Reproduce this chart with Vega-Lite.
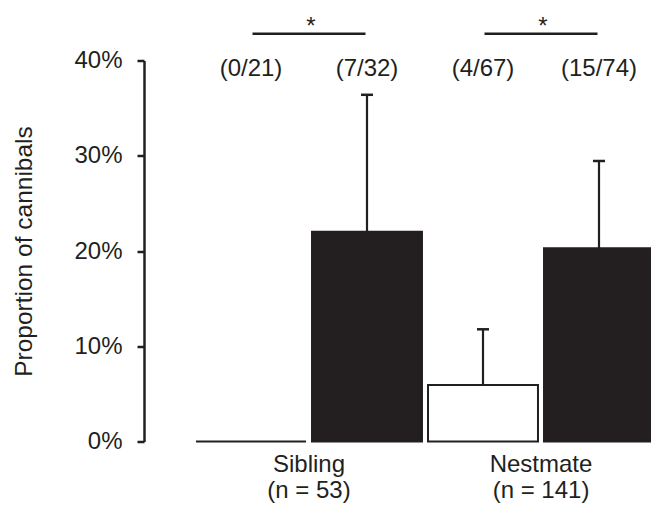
{
  "$schema": "https://vega.github.io/schema/vega-lite/v6.json",
  "width": 507,
  "height": 381,
  "autosize": {"type": "none"},
  "padding": {"left": 144, "top": 60.5, "right": 0, "bottom": 64.5},
  "background": "white",
  "config": {
    "view": {"stroke": null},
    "font": "Liberation Sans",
    "text": {"font": "Liberation Sans"}
  },
  "datasets": {
    "bars": [
      {"group": "Sibling", "treat": "A", "value": 0.0, "upper": null, "count": "(0/21)"},
      {"group": "Sibling", "treat": "B", "value": 0.2203, "upper": 0.364, "count": "(7/32)"},
      {"group": "Nestmate", "treat": "A", "value": 0.0593, "upper": 0.1178, "count": "(4/67)"},
      {"group": "Nestmate", "treat": "B", "value": 0.2028, "upper": 0.2945, "count": "(15/74)"}
    ],
    "sig": [
      {"group": "Sibling", "label": "*"},
      {"group": "Nestmate", "label": "*"}
    ]
  },
  "encoding": {
    "x": {
      "field": "group",
      "type": "nominal",
      "sort": ["Sibling", "Nestmate"],
      "scale": {"range": [49, 513], "paddingInner": 0, "paddingOuter": 0},
      "axis": {
        "title": null,
        "domain": false,
        "ticks": false,
        "tickSize": 0,
        "labelAngle": 0,
        "labelFont": "Liberation Sans",
        "labelFontSize": 24,
        "labelColor": "#231f20",
        "labelBaseline": "alphabetic",
        "labelPadding": 30,
        "labelLineHeight": 26,
        "labelExpr": "datum.value == 'Sibling' ? ['Sibling', '(n = 53)'] : ['Nestmate', '(n = 141)']"
      }
    }
  },
  "layer": [
    {
      "data": {"name": "bars"},
      "mark": {"type": "bar", "stroke": "#231f20", "strokeWidth": 2},
      "encoding": {
        "xOffset": {"field": "treat", "type": "nominal", "sort": ["A", "B"], "scale": {"paddingInner": 0.052, "paddingOuter": 0.026}},
        "y": {
          "field": "value",
          "type": "quantitative",
          "scale": {"domain": [0, 0.4], "nice": false, "zero": true},
          "axis": {
            "title": "Proportion of cannibals",
            "titleFont": "Liberation Sans",
            "titleFontSize": 24.5,
            "titleFontWeight": "normal",
            "titleColor": "#231f20",
            "titlePadding": 37,
            "values": [0, 0.1, 0.2, 0.3, 0.4],
            "format": ".0%",
            "grid": false,
            "domainColor": "#231f20",
            "domainWidth": 2.5,
            "tickColor": "#231f20",
            "tickWidth": 2.5,
            "tickSize": 7,
            "labelFont": "Liberation Sans",
            "labelFontSize": 24,
            "labelColor": "#231f20",
            "labelPadding": 15
          }
        },
        "color": {
          "field": "treat",
          "type": "nominal",
          "scale": {"domain": ["A", "B"], "range": ["#ffffff", "#231f20"]},
          "legend": null
        }
      }
    },
    {
      "data": {"name": "bars"},
      "transform": [{"filter": "datum.upper != null"}],
      "mark": {"type": "rule", "color": "#231f20", "strokeWidth": 2.2},
      "encoding": {
        "xOffset": {"field": "treat", "type": "nominal", "sort": ["A", "B"]},
        "y": {"field": "value", "type": "quantitative"},
        "y2": {"field": "upper"}
      }
    },
    {
      "data": {"name": "bars"},
      "transform": [{"filter": "datum.upper != null"}],
      "mark": {"type": "tick", "color": "#231f20", "size": 12, "thickness": 2.5, "opacity": 1},
      "encoding": {
        "xOffset": {"field": "treat", "type": "nominal", "sort": ["A", "B"]},
        "y": {"field": "upper", "type": "quantitative"}
      }
    },
    {
      "data": {"name": "bars"},
      "mark": {"type": "text", "font": "Liberation Sans", "fontSize": 24, "color": "#231f20", "baseline": "alphabetic", "align": "center"},
      "encoding": {
        "xOffset": {"field": "treat", "type": "nominal", "sort": ["A", "B"]},
        "y": {"datum": 0.384},
        "text": {"field": "count"}
      }
    },
    {
      "data": {"name": "sig"},
      "mark": {"type": "tick", "color": "#231f20", "size": 113, "thickness": 2.5, "opacity": 1},
      "encoding": {
        "y": {"datum": 0.428}
      }
    },
    {
      "data": {"name": "sig"},
      "mark": {"type": "text", "font": "Liberation Sans", "fontSize": 24, "color": "#231f20", "baseline": "alphabetic", "align": "center", "dx": 2},
      "encoding": {
        "y": {"datum": 0.428},
        "text": {"field": "label"}
      }
    }
  ]
}
